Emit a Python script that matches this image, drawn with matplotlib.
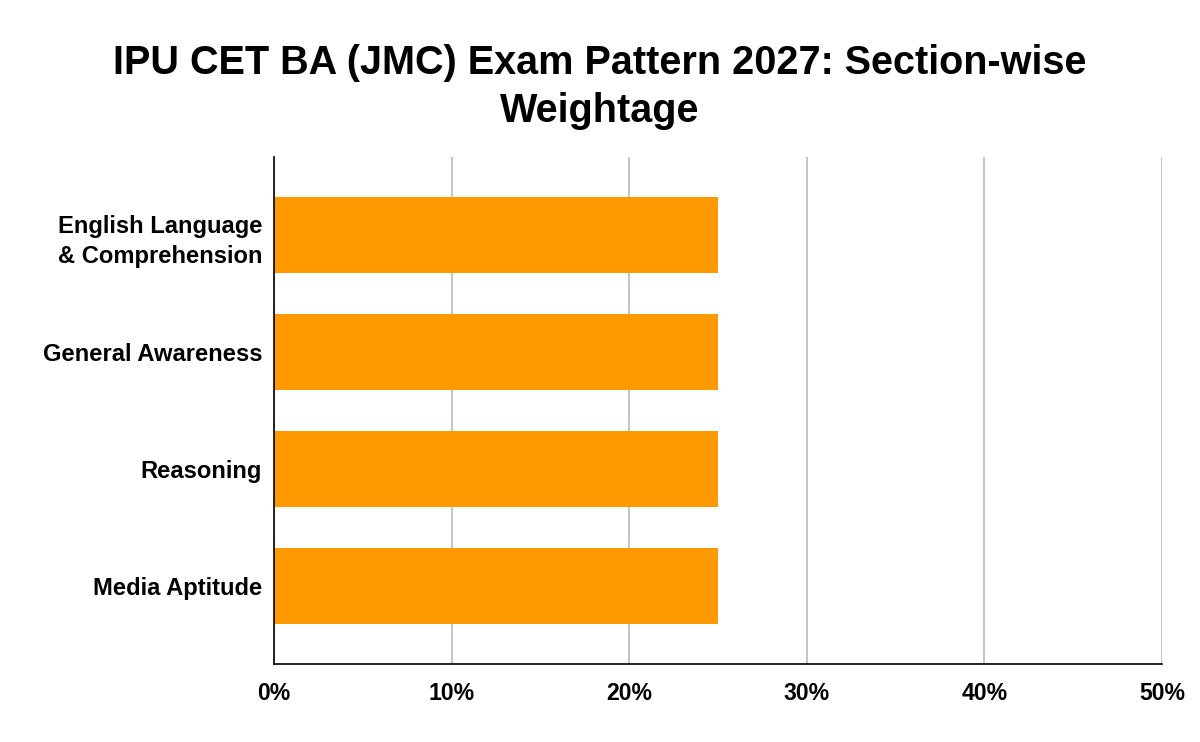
import matplotlib.pyplot as plt
from matplotlib.ticker import FuncFormatter

plt.rcParams['font.family'] = ['Liberation Sans', 'DejaVu Sans']

sections = ['English Language\n& Comprehension', 'General Awareness', 'Reasoning', 'Media Aptitude']
weightage = [25, 25, 25, 25]
xticks = [0, 10, 20, 30, 40, 50]

fig = plt.figure(figsize=(12, 7.42), dpi=100)
ax = fig.add_axes([0.2283, 0.1051, 0.74, 0.6833])

ax.barh(range(len(sections)), weightage, height=0.65, color='#FF9900', zorder=3)

ax.set_xlim(0, 50)
ax.set_ylim(3.67, -0.67)
ax.set_xticks(xticks)
ax.xaxis.set_major_formatter(FuncFormatter(lambda v, p: f'{v:.0f}%'))
ax.set_yticks(range(len(sections)))
ax.set_yticklabels(sections, fontsize=17.1, fontweight='bold', linespacing=1.4)
for lbl in ax.get_xticklabels():
    lbl.set_fontsize(16.6)
    lbl.set_fontweight('bold')

ax.grid(axis='x', color='#BBBBBB', linewidth=1.2, zorder=0)
ax.tick_params(axis='both', length=0)
ax.tick_params(axis='x', pad=13)
ax.tick_params(axis='y', pad=8.6)

for s in ['top', 'right']:
    ax.spines[s].set_visible(False)
ax.spines['left'].set_color('black')
ax.spines['bottom'].set_color('black')
ax.spines['left'].set_linewidth(1.2)
ax.spines['bottom'].set_linewidth(1.2)
ax.spines['left'].set_zorder(4)

fig.text(0.5, 1 - 87 / 742, 'IPU CET BA (JMC) Exam Pattern 2027: Section-wise\nWeightage',
         fontsize=28.5, fontweight='bold', ha='center', va='center', linespacing=1.32)

fig.savefig('out.png', dpi=100)
